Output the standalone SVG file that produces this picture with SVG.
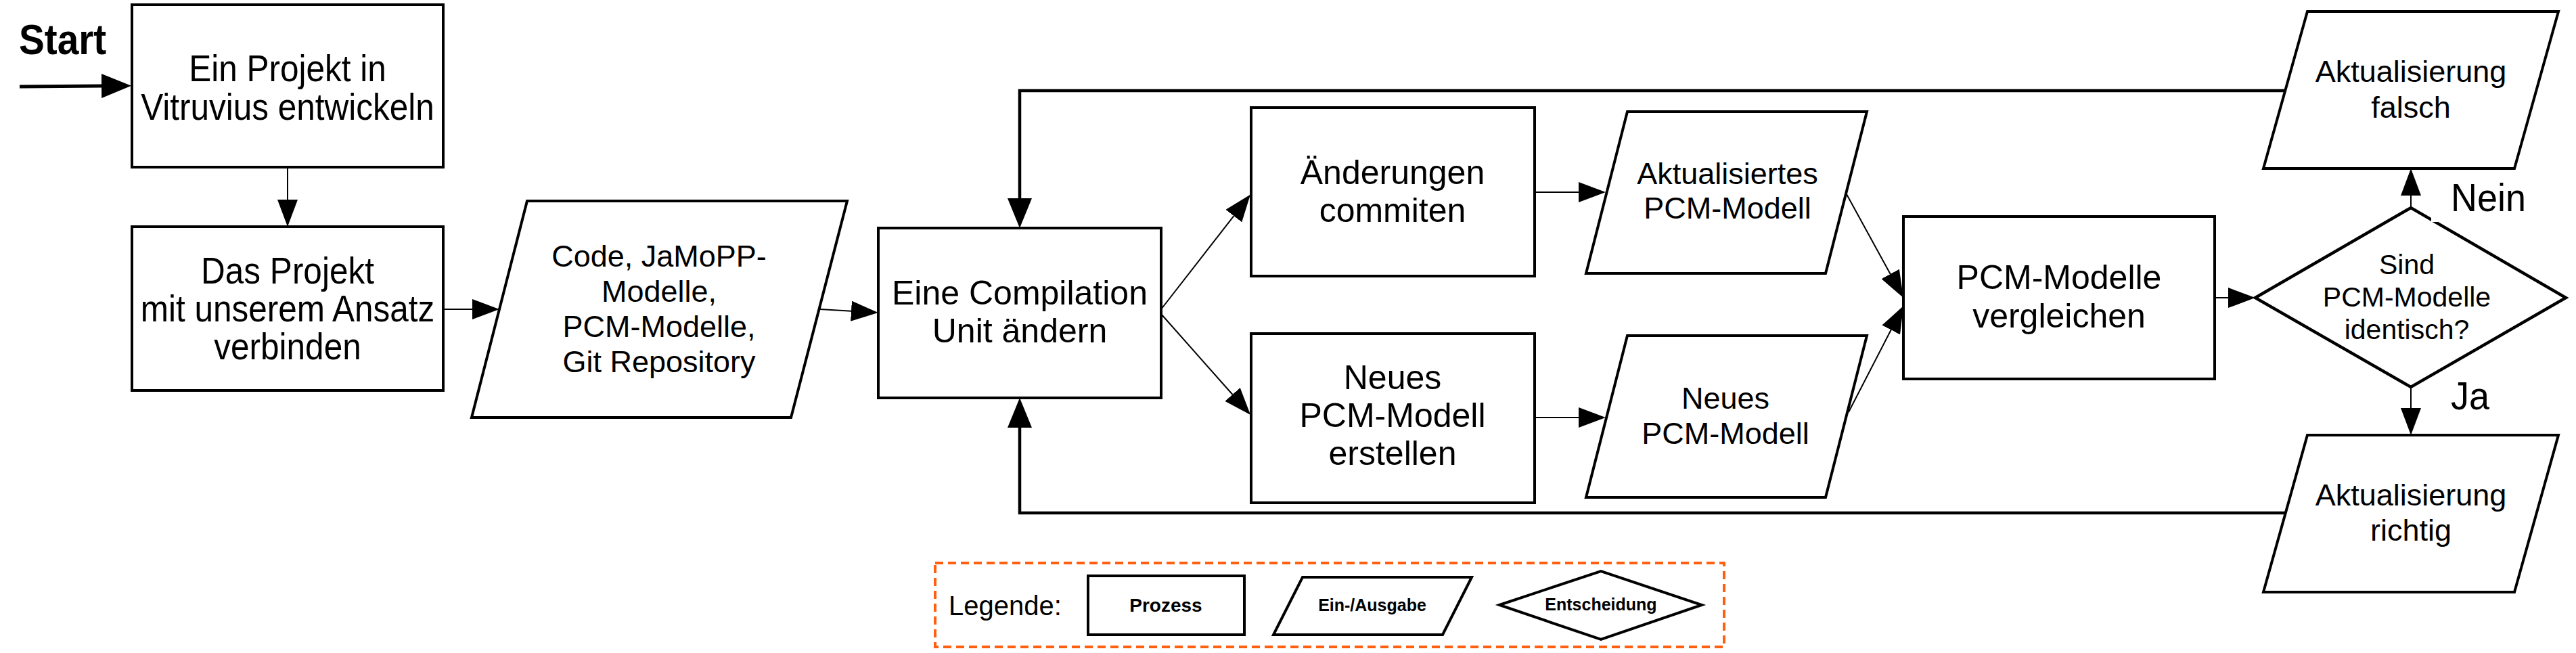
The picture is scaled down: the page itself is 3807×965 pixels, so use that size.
<svg xmlns="http://www.w3.org/2000/svg" width="3807" height="965" viewBox="0 0 3807 965">
<style>
.n{fill:#fff;stroke:#000;stroke-width:4;stroke-linejoin:miter}
.t{font-family:"Liberation Sans",Arial,Helvetica,sans-serif;fill:#000;text-anchor:middle}
.f50{font-size:50px}
.f55{font-size:55px}
.f45{font-size:45px}
.f41{font-size:41px}
.lb{font-family:"Liberation Sans",Arial,Helvetica,sans-serif;font-weight:bold;fill:#000;text-anchor:middle}
.thin{fill:none;stroke:#000;stroke-width:2}
.thick{fill:none;stroke:#000;stroke-width:4.5}
</style>
<defs>
<marker id="aS" markerWidth="40" markerHeight="30" refX="0" refY="15" orient="auto" markerUnits="userSpaceOnUse"><path d="M0,0 L40,15 L0,30 z" fill="#000"/></marker>
<marker id="aL" markerWidth="44" markerHeight="36" refX="0" refY="18" orient="auto" markerUnits="userSpaceOnUse"><path d="M0,0 L44,18 L0,36 z" fill="#000"/></marker>
</defs>
<rect width="3807" height="965" fill="#fff"/>

<g id="connectors">
<path class="thick" d="M29,128 L150,127" marker-end="url(#aL)" style="stroke-width:5"/>
<path class="thin" d="M425,247 L425,295" marker-end="url(#aS)"/>
<path class="thin" d="M655,457 L698,457" marker-end="url(#aS)"/>
<path class="thin" d="M1212,457 L1258,459.7" marker-end="url(#aS)"/>
<path class="thin" d="M1716,457 L1823.4,319.1" marker-end="url(#aS)"/>
<path class="thin" d="M1716,464 L1821.5,583" marker-end="url(#aS)"/>
<path class="thin" d="M2268,284 L2333,284" marker-end="url(#aS)"/>
<path class="thin" d="M2268,617 L2333,617" marker-end="url(#aS)"/>
<path class="thin" d="M2729,287 L2793.7,404.9" marker-end="url(#aS)"/>
<path class="thin" d="M2732,609 L2794.7,487.5" marker-end="url(#aS)"/>
<path class="thin" d="M3273,440 L3293,440" marker-end="url(#aS)"/>
<path class="thin" d="M3563,307 L3563,289" marker-end="url(#aS)"/>
<path class="thin" d="M3563,572 L3563,603" marker-end="url(#aS)"/>
<path class="thick" d="M3377,134 L1507,134 L1507,293" marker-end="url(#aL)"/>
<path class="thick" d="M3378,758 L1507,758 L1507,632" marker-end="url(#aL)"/>
</g>

<g id="start">
<text transform="translate(28,0) scale(0.9,1)" x="0" y="80" style="font-family:'Liberation Sans',Arial,sans-serif;font-weight:bold;font-size:63px">Start</text>
</g>

<g id="box1">
<rect class="n" x="195" y="7" width="460" height="240"/>
<text class="t f55" transform="translate(425,0) scale(0.9,1)" x="0" y="120">Ein Projekt in</text>
<text class="t f55" transform="translate(425,0) scale(0.9,1)" x="0" y="177">Vitruvius entwickeln</text>
</g>

<g id="box2">
<rect class="n" x="195" y="335" width="460" height="242"/>
<text class="t f55" transform="translate(425,0) scale(0.9,1)" x="0" y="419">Das Projekt</text>
<text class="t f55" transform="translate(425,0) scale(0.9,1)" x="0" y="475">mit unserem Ansatz</text>
<text class="t f55" transform="translate(425,0) scale(0.9,1)" x="0" y="531">verbinden</text>
</g>

<g id="io1">
<polygon class="n" points="779,297 1252,297 1169,617 697,617"/>
<text class="t f45" x="974" y="394">Code, JaMoPP-</text>
<text class="t f45" x="974" y="446">Modelle,</text>
<text class="t f45" x="974" y="498">PCM-Modelle,</text>
<text class="t f45" x="974" y="550">Git Repository</text>
</g>

<g id="box3">
<rect class="n" x="1298" y="337" width="418" height="251"/>
<text class="t f50" x="1507" y="450">Eine Compilation</text>
<text class="t f50" x="1507" y="506">Unit ändern</text>
</g>

<g id="box4">
<rect class="n" x="1849" y="159" width="419" height="249"/>
<text class="t f50" x="2058" y="272">Änderungen</text>
<text class="t f50" x="2058" y="328">commiten</text>
</g>

<g id="box5">
<rect class="n" x="1849" y="493" width="419" height="250"/>
<text class="t f50" x="2058" y="575">Neues</text>
<text class="t f50" x="2058" y="631">PCM-Modell</text>
<text class="t f50" x="2058" y="687">erstellen</text>
</g>

<g id="io2">
<polygon class="n" points="2405,165 2759,165 2698,404 2344,404"/>
<text class="t f45" x="2553" y="272">Aktualisiertes</text>
<text class="t f45" x="2553" y="323">PCM-Modell</text>
</g>

<g id="io3">
<polygon class="n" points="2405,496 2759,496 2698,735 2344,735"/>
<text class="t f45" x="2550" y="604">Neues</text>
<text class="t f45" x="2550" y="656">PCM-Modell</text>
</g>

<g id="box6">
<rect class="n" x="2813" y="320" width="460" height="240"/>
<text class="t f50" x="3043" y="427">PCM-Modelle</text>
<text class="t f50" x="3043" y="484">vergleichen</text>
</g>

<g id="decision">
<polygon class="n" points="3333,440 3563,307 3792,440 3563,572" style="stroke-width:4.5"/>
<text class="t f41" x="3557" y="405">Sind</text>
<text class="t f41" x="3557" y="453">PCM-Modelle</text>
<text class="t f41" x="3557" y="501">identisch?</text>
</g>

<g id="label-nein">
<rect x="3593" y="258" width="145" height="70" fill="#fff"/>
<text transform="translate(3622,0) scale(0.93,1)" x="0" y="312" style="font-family:'Liberation Sans',Arial,sans-serif;font-size:58px">Nein</text>
</g>

<g id="label-ja">
<text transform="translate(3622,0) scale(0.95,1)" x="0" y="605" style="font-family:'Liberation Sans',Arial,sans-serif;font-size:57px">Ja</text>
</g>

<g id="io4">
<polygon class="n" points="3410,17 3781,17 3716,249 3345,249"/>
<text class="t f45" x="3563" y="121">Aktualisierung</text>
<text class="t f45" x="3563" y="174">falsch</text>
</g>

<g id="io5">
<polygon class="n" points="3410,643 3781,643 3716,875 3345,875"/>
<text class="t f45" x="3563" y="747">Aktualisierung</text>
<text class="t f45" x="3563" y="799">richtig</text>
</g>

<g id="legend">
<rect x="1382" y="832" width="1166" height="124" fill="none" stroke="#FF5F0F" stroke-width="4" stroke-dasharray="12 7"/>
<text x="1402" y="909" style="font-family:'Liberation Sans',Arial,sans-serif;font-size:40px">Legende:</text>
<rect class="n" x="1608" y="851" width="231" height="87"/>
<text class="lb" x="1723" y="904" style="font-size:28px">Prozess</text>
<polygon class="n" points="1925,853 2175,853 2132,938 1882,938"/>
<text class="lb" x="2028" y="903" style="font-size:25px">Ein-/Ausgabe</text>
<polygon class="n" points="2216,894 2366,844 2515,894 2366,945"/>
<text class="lb" x="2366" y="902" style="font-size:25px">Entscheidung</text>
</g>
</svg>
